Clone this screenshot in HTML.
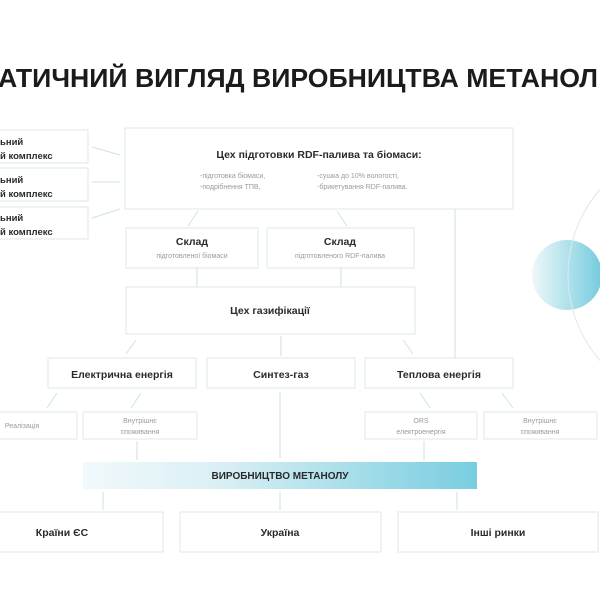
<!DOCTYPE html>
<html><head><meta charset="utf-8"><style>
html,body{margin:0;padding:0;background:#fff;width:600px;height:600px;overflow:hidden}
text{font-family:"Liberation Sans","DejaVu Sans",sans-serif}
</style></head><body>
<svg width="600" height="600" viewBox="0 0 600 600" xmlns="http://www.w3.org/2000/svg">
<defs>
<linearGradient id="bar" x1="0" x2="1" y1="0" y2="0">
<stop offset="0" stop-color="#f1f9fb"/><stop offset="0.35" stop-color="#d9eff4"/><stop offset="1" stop-color="#78cde0"/>
</linearGradient>
<linearGradient id="circ" x1="0" x2="1" y1="0" y2="0">
<stop offset="0" stop-color="#eef8fa"/><stop offset="1" stop-color="#74cbde"/>
</linearGradient>
</defs>
<rect width="600" height="600" fill="#fff"/>
<text x="-2" y="87" font-size="26" font-weight="bold" fill="#1b1b1b" textLength="600" lengthAdjust="spacingAndGlyphs">АТИЧНИЙ ВИГЛЯД ВИРОБНИЦТВА МЕТАНОЛ</text>

<circle cx="567" cy="275" r="35" fill="url(#circ)"/>
<circle cx="698" cy="275" r="130" fill="none" stroke="#dde9ea" stroke-width="1"/>

<g fill="#fff" stroke="#e2eded" stroke-width="1.2">
<rect x="-5" y="130" width="93" height="33"/>
<rect x="-5" y="168" width="93" height="33"/>
<rect x="-5" y="207" width="93" height="32"/>
<rect x="125" y="128" width="388" height="81"/>
<rect x="126" y="228" width="132" height="40"/>
<rect x="267" y="228" width="147" height="40"/>
<rect x="126" y="287" width="289" height="47"/>
<rect x="48" y="358" width="148" height="30"/>
<rect x="207" y="358" width="148" height="30"/>
<rect x="365" y="358" width="148" height="30"/>
<rect x="-5" y="412" width="82" height="27"/>
<rect x="83" y="412" width="114" height="27"/>
<rect x="365" y="412" width="112" height="27"/>
<rect x="484" y="412" width="113" height="27"/>
<rect x="-5" y="512" width="168" height="40"/>
<rect x="180" y="512" width="201" height="40"/>
<rect x="398" y="512" width="200" height="40"/>
</g>
<rect x="83" y="462" width="394" height="27" fill="url(#bar)"/>

<g stroke="#cfe2e3" stroke-width="1" fill="none">
<line x1="92" y1="147" x2="120" y2="155"/>
<line x1="92" y1="182" x2="120" y2="182"/>
<line x1="92" y1="218" x2="120" y2="209"/>
<line x1="198" y1="211" x2="188" y2="226"/>
<line x1="337" y1="211" x2="347" y2="226"/>
<line x1="197" y1="268" x2="197" y2="287"/>
<line x1="341" y1="268" x2="341" y2="287"/>
<line x1="455" y1="209" x2="455" y2="358"/>
<line x1="136" y1="340" x2="126" y2="354"/>
<line x1="281" y1="336" x2="281" y2="356"/>
<line x1="403" y1="340" x2="413" y2="354"/>
<line x1="57" y1="393" x2="47" y2="408"/>
<line x1="141" y1="393" x2="131" y2="408"/>
<line x1="420" y1="393" x2="430" y2="408"/>
<line x1="502" y1="393" x2="513" y2="408"/>
<line x1="280" y1="392" x2="280" y2="458"/>
<line x1="137" y1="441" x2="137" y2="460"/>
<line x1="424" y1="441" x2="424" y2="460"/>
<line x1="103" y1="492" x2="103" y2="510"/>
<line x1="280" y1="492" x2="280" y2="510"/>
<line x1="457" y1="492" x2="457" y2="510"/>
</g>

<g font-size="9.5" font-weight="bold" fill="#2a2a2a">
<text x="0" y="145">ьний</text><text x="0" y="159">й комплекс</text>
<text x="0" y="183">ьний</text><text x="0" y="197">й комплекс</text>
<text x="0" y="221">ьний</text><text x="0" y="235">й комплекс</text>
</g>
<g font-size="10.5" font-weight="bold" fill="#2a2a2a" text-anchor="middle">
<text x="319" y="158">Цех підготовки RDF-палива та біомаси:</text>
<text x="192" y="245">Склад</text>
<text x="340" y="245">Склад</text>
<text x="270" y="314">Цех газифікації</text>
<text x="122" y="378">Електрична енергія</text>
<text x="281" y="378">Синтез-газ</text>
<text x="439" y="378">Теплова енергія</text>
<text x="62" y="536">Країни ЄС</text>
<text x="280" y="536">Україна</text>
<text x="498" y="536">Інші ринки</text>
<text x="280" y="479" font-size="10">ВИРОБНИЦТВО МЕТАНОЛУ</text>
</g>
<g font-size="7" fill="#9a9a9a">
<text x="200" y="178">-підготовка біомаси,</text>
<text x="200" y="189">-подрібнення ТПВ,</text>
<text x="317" y="178">-сушка до 10% вологості,</text>
<text x="317" y="189">-брикетування RDF-палива.</text>
</g>
<g font-size="7" fill="#9a9a9a" text-anchor="middle">
<text x="192" y="258">підготовленої біомаси</text>
<text x="340" y="258">підготовленого RDF-палива</text>
<text x="22" y="428">Реалізація</text>
<text x="140" y="423">Внутрішнє</text><text x="140" y="434">споживання</text>
<text x="421" y="423">ORS</text><text x="421" y="434">електроенергія</text>
<text x="540" y="423">Внутрішнє</text><text x="540" y="434">споживання</text>
</g>
</svg>
</body></html>
